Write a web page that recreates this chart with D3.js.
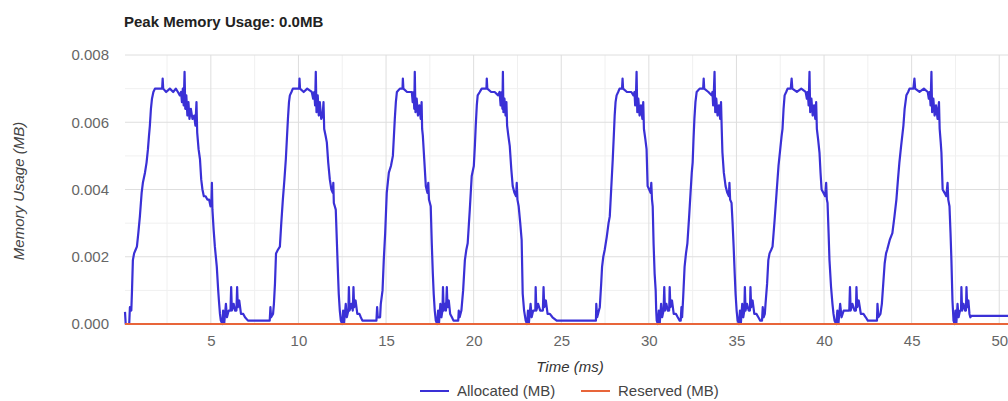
<!DOCTYPE html>
<html>
<head>
<meta charset="utf-8">
<script src="https://cdn.jsdelivr.net/npm/d3@7"></script>
<style>
  html, body { margin: 0; padding: 0; background: #fff; }
  svg { display: block; font-family: "Liberation Sans", Arial, sans-serif; }
</style>
</head>
<body>
<svg id="chart" width="1008" height="401"></svg>
<script>
// Allocated memory over time, [time ms, MB], one block per burst
const allocatedBurst1 = [
  [0.10,0.00036],[0.14,0.0000],[0.34,0.0000],[0.38,0.0005],[0.46,0.0004],[0.50,0.0010],[0.55,0.0019],[0.62,0.0021],[0.70,0.0022],[0.78,0.0023],
  [0.86,0.0027],[0.95,0.0032],[1.05,0.0039],[1.12,0.0042],[1.24,0.0045],[1.33,0.0048],[1.41,0.0052],[1.47,0.0056],[1.52,0.0059],[1.58,0.0064],
  [1.64,0.0067],[1.72,0.0069],[1.81,0.0070],[1.95,0.0070],[2.09,0.0070],[2.22,0.0070],[2.25,0.0073],[2.28,0.0070],[2.45,0.0069],[2.66,0.0070],
  [2.85,0.0069],[3.00,0.0070],[3.12,0.0069],[3.23,0.0068],[3.30,0.0069],[3.35,0.0066],[3.40,0.0070],[3.45,0.0065],[3.50,0.0075],[3.54,0.0064],
  [3.60,0.0068],[3.66,0.0062],[3.72,0.0066],[3.78,0.0061],[3.86,0.0064],[3.95,0.0061],[4.05,0.0062],[4.12,0.0059],[4.18,0.0066],[4.22,0.0057],
  [4.30,0.0052],[4.38,0.0049],[4.45,0.0043],[4.52,0.0040],[4.60,0.0038],[4.70,0.0038],[4.80,0.0037],[4.90,0.0037],[4.98,0.0035],[5.03,0.0036],
  [5.06,0.0042],[5.09,0.0034],[5.16,0.0028],[5.23,0.0023],[5.34,0.0017],[5.42,0.0010],[5.46,0.0007],[5.52,0.0003],[5.57,0.0001],
  [5.66,0.0000],[5.70,0.0004],[5.76,0.0000],[5.86,0.0006],[5.92,0.0002],[6.02,0.0004],[6.12,0.0004],[6.16,0.0011],[6.20,0.0004],[6.30,0.0006],
  [6.38,0.0004],[6.46,0.0004],[6.50,0.0011],[6.54,0.0005],[6.62,0.0007],[6.72,0.0003],[6.85,0.0003],[6.95,0.0002],[7.12,0.0001],
  [8.36,0.0001],[8.40,0.0005],[8.44,0.0002],[8.55,0.0003],[8.60,0.0006]
];
const allocatedBurst2 = [
  [8.66,0.0012],[8.72,0.0021],[8.82,0.0022],[8.94,0.0023],[9.02,0.0030],[9.11,0.0037],[9.20,0.0043],[9.28,0.0049],[9.34,0.0055],[9.40,0.0061],
  [9.46,0.0066],[9.51,0.0068],[9.60,0.0069],[9.68,0.0070],[9.85,0.0070],[10.04,0.0070],[10.06,0.0073],[10.09,0.0070],[10.30,0.0069],[10.50,0.0070],
  [10.76,0.0069],[10.84,0.0067],[10.90,0.0069],[10.95,0.0065],[10.99,0.0075],[11.03,0.0063],[11.10,0.0068],[11.16,0.0062],[11.22,0.0066],[11.30,0.0061],
  [11.38,0.0062],[11.43,0.0066],[11.47,0.0058],[11.55,0.0056],[11.62,0.0054],[11.70,0.0048],[11.79,0.0043],[11.88,0.0040],[11.96,0.0039],[11.99,0.0042],
  [12.02,0.0036],[12.13,0.0034],[12.19,0.0025],[12.25,0.0016],[12.30,0.0009],[12.36,0.0004],[12.42,0.0001],
  [12.50,0.0000],[12.55,0.0004],[12.60,0.0000],[12.70,0.0006],[12.76,0.0002],[12.85,0.0004],[12.88,0.0011],[12.92,0.0004],[13.02,0.0006],
  [13.10,0.0004],[13.14,0.0011],[13.18,0.0005],[13.26,0.0007],[13.36,0.0003],[13.48,0.0003],[13.56,0.0002],[13.65,0.0001],
  [14.45,0.0001],[14.49,0.0005],[14.53,0.0002],[14.66,0.0002],[14.70,0.0006]
];
const allocatedBurst3 = [
  [14.80,0.0010],[14.87,0.0019],[14.95,0.0027],[15.04,0.0039],[15.16,0.0045],[15.28,0.0047],[15.39,0.0050],[15.45,0.0056],[15.50,0.0061],[15.56,0.0066],
  [15.62,0.0069],[15.79,0.0070],[15.94,0.0070],[15.96,0.0073],[15.99,0.0070],[16.20,0.0069],[16.47,0.0069],[16.52,0.0066],[16.57,0.0069],[16.61,0.0064],
  [16.64,0.0075],[16.68,0.0063],[16.75,0.0067],[16.82,0.0062],[16.90,0.0065],[16.98,0.0061],[17.03,0.0066],[17.06,0.0058],[17.10,0.0056],[17.18,0.0049],
  [17.27,0.0041],[17.36,0.0039],[17.41,0.0042],[17.45,0.0037],[17.55,0.0035],[17.61,0.0024],[17.67,0.0015],[17.72,0.0009],[17.78,0.0004],[17.84,0.0001],
  [17.92,0.0000],[17.97,0.0004],[18.02,0.0000],[18.10,0.0006],[18.16,0.0002],[18.22,0.0004],[18.25,0.0011],[18.29,0.0004],[18.36,0.0006],[18.42,0.0004],
  [18.47,0.0011],[18.51,0.0005],[18.58,0.0007],[18.66,0.0003],[18.76,0.0002],[18.85,0.0001],
  [19.12,0.0001],[19.15,0.0004],[19.20,0.0002],[19.30,0.0004]
];
const allocatedBurst4 = [
  [19.40,0.0010],[19.50,0.0019],[19.58,0.0022],[19.66,0.0024],[19.72,0.0029],[19.78,0.0034],[19.89,0.0044],[20.01,0.0047],[20.07,0.0053],[20.12,0.0059],
  [20.18,0.0065],[20.23,0.0068],[20.35,0.0069],[20.46,0.0070],[20.60,0.0070],[20.73,0.0070],[20.75,0.0073],[20.78,0.0070],[21.00,0.0069],[21.20,0.0069],
  [21.40,0.0068],[21.48,0.0069],[21.54,0.0065],[21.60,0.0069],[21.64,0.0064],[21.67,0.0075],[21.70,0.0063],[21.76,0.0067],[21.82,0.0062],[21.87,0.0066],
  [21.91,0.0059],[21.98,0.0056],[22.06,0.0053],[22.15,0.0046],[22.23,0.0041],[22.33,0.0039],[22.42,0.0038],[22.46,0.0042],[22.50,0.0037],[22.57,0.0035],
  [22.66,0.0030],[22.74,0.0025],[22.80,0.0009],[22.88,0.0004],[22.97,0.0001],
  [23.05,0.0000],[23.10,0.0004],[23.15,0.0000],[23.25,0.0006],[23.31,0.0002],[23.40,0.0004],[23.52,0.0004],[23.54,0.0011],[23.58,0.0004],[23.68,0.0006],
  [23.80,0.0004],[23.95,0.0004],[23.99,0.0011],[24.03,0.0005],[24.12,0.0007],[24.22,0.0003],[24.35,0.0003],[24.50,0.0002],[24.74,0.0001],
  [26.98,0.0001],[27.00,0.0006],[27.05,0.0002],[27.15,0.0004],[27.20,0.0005]
];
const allocatedBurst5 = [
  [27.28,0.0012],[27.33,0.0017],[27.40,0.0020],[27.48,0.0022],[27.60,0.0026],[27.70,0.0030],[27.77,0.0032],[27.85,0.0040],[27.94,0.0049],[28.00,0.0056],
  [28.05,0.0062],[28.10,0.0066],[28.16,0.0068],[28.25,0.0069],[28.33,0.0070],[28.47,0.0070],[28.50,0.0073],[28.53,0.0070],[28.75,0.0069],[29.00,0.0069],
  [29.12,0.0068],[29.18,0.0069],[29.22,0.0065],[29.27,0.0069],[29.30,0.0075],[29.34,0.0063],[29.40,0.0067],[29.47,0.0062],[29.55,0.0065],[29.63,0.0061],
  [29.68,0.0066],[29.72,0.0058],[29.80,0.0055],[29.87,0.0052],[29.93,0.0041],[30.02,0.0040],[30.10,0.0039],[30.14,0.0042],[30.18,0.0037],[30.22,0.0035],
  [30.27,0.0024],[30.33,0.0015],[30.39,0.0010],[30.42,0.0004],[30.45,0.0001],
  [30.52,0.0000],[30.57,0.0004],[30.62,0.0000],[30.70,0.0006],[30.76,0.0002],[30.84,0.0004],[30.88,0.0011],[30.92,0.0004],[31.00,0.0006],[31.08,0.0004],
  [31.16,0.0004],[31.19,0.0011],[31.23,0.0005],[31.32,0.0007],[31.42,0.0003],[31.55,0.0003],[31.65,0.0002],[31.76,0.0001],
  [31.82,0.0001],[31.86,0.0005],[31.90,0.0002]
];
const allocatedBurst6 = [
  [31.96,0.0008],[32.04,0.0017],[32.12,0.0021],[32.20,0.0024],[32.30,0.0032],[32.38,0.0039],[32.45,0.0045],[32.50,0.0048],[32.55,0.0055],[32.60,0.0061],
  [32.66,0.0066],[32.73,0.0069],[32.90,0.0070],[33.10,0.0070],[33.13,0.0073],[33.16,0.0070],[33.40,0.0069],[33.58,0.0068],[33.63,0.0069],[33.67,0.0065],
  [33.71,0.0069],[33.75,0.0075],[33.79,0.0063],[33.85,0.0067],[33.92,0.0062],[34.00,0.0065],[34.07,0.0061],[34.12,0.0066],[34.16,0.0058],[34.20,0.0051],
  [34.28,0.0045],[34.38,0.0041],[34.48,0.0039],[34.57,0.0038],[34.60,0.0042],[34.64,0.0037],[34.72,0.0036],[34.78,0.0030],[34.84,0.0023],[34.90,0.0015],
  [34.95,0.0009],[35.01,0.0004],[35.07,0.0001],
  [35.15,0.0000],[35.20,0.0004],[35.25,0.0000],[35.33,0.0006],[35.39,0.0002],[35.45,0.0004],[35.48,0.0011],[35.52,0.0004],[35.60,0.0006],[35.70,0.0004],
  [35.77,0.0004],[35.80,0.0011],[35.84,0.0005],[35.92,0.0007],[36.02,0.0003],[36.14,0.0003],[36.25,0.0002],[36.36,0.0001],
  [36.46,0.0001],[36.50,0.0005],[36.55,0.0002],[36.62,0.0003],[36.66,0.0006]
];
const allocatedBurst7 = [
  [36.75,0.0012],[36.82,0.0019],[36.89,0.0021],[36.98,0.0022],[37.06,0.0023],[37.18,0.0031],[37.29,0.0039],[37.40,0.0047],[37.50,0.0052],[37.58,0.0056],
  [37.63,0.0058],[37.69,0.0064],[37.75,0.0068],[37.84,0.0069],[37.92,0.0070],[38.10,0.0070],[38.15,0.0073],[38.19,0.0070],[38.45,0.0069],[38.70,0.0070],
  [38.95,0.0069],[39.02,0.0067],[39.07,0.0069],[39.12,0.0065],[39.17,0.0075],[39.21,0.0063],[39.28,0.0067],[39.35,0.0062],[39.43,0.0065],[39.50,0.0061],
  [39.55,0.0066],[39.59,0.0058],[39.66,0.0055],[39.74,0.0051],[39.80,0.0045],[39.86,0.0040],[39.96,0.0039],[40.06,0.0038],[40.12,0.0042],[40.16,0.0037],
  [40.20,0.0036],[40.26,0.0027],[40.31,0.0019],[40.40,0.0011],[40.48,0.0006],[40.54,0.0003],[40.60,0.0001],
  [40.70,0.0000],[40.76,0.0004],[40.82,0.0000],[40.92,0.0006],[41.00,0.0002],[41.12,0.0004],[41.30,0.0004],[41.44,0.0004],[41.48,0.0011],[41.52,0.0004],
  [41.62,0.0006],[41.74,0.0004],[41.82,0.0004],[41.85,0.0011],[41.89,0.0005],[41.98,0.0007],[42.10,0.0003],[42.25,0.0003],[42.38,0.0002],[42.50,0.0001],
  [43.02,0.0001],[43.05,0.0006],[43.10,0.0002],[43.22,0.0003],[43.30,0.0006]
];
const allocatedBurst8 = [
  [43.38,0.0012],[43.46,0.0018],[43.54,0.0021],[43.60,0.0022],[43.75,0.0025],[43.90,0.0027],[44.02,0.0032],[44.13,0.0037],[44.22,0.0043],[44.30,0.0048],
  [44.40,0.0053],[44.53,0.0059],[44.60,0.0064],[44.70,0.0068],[44.80,0.0069],[44.88,0.0070],[45.10,0.0070],[45.16,0.0073],[45.20,0.0070],[45.45,0.0069],
  [45.70,0.0070],[45.92,0.0069],[45.98,0.0067],[46.03,0.0069],[46.08,0.0065],[46.13,0.0075],[46.17,0.0063],[46.24,0.0067],[46.31,0.0062],[46.39,0.0065],
  [46.48,0.0061],[46.56,0.0066],[46.60,0.0058],[46.66,0.0054],[46.70,0.0051],[46.77,0.0040],[46.88,0.0039],[46.98,0.0038],[47.05,0.0042],[47.09,0.0037],
  [47.16,0.0035],[47.22,0.0027],[47.27,0.0019],[47.33,0.0007],[47.39,0.0001],
  [47.46,0.0000],[47.50,0.0004],[47.55,0.0000],[47.62,0.0006],[47.68,0.0002],[47.76,0.0004],[47.82,0.0004],[47.84,0.0011],[47.88,0.0004],[47.96,0.0006],
  [48.05,0.0004],[48.10,0.0004],[48.13,0.0011],[48.17,0.0005],[48.24,0.0007],[48.30,0.0003],[48.35,0.0002],[48.40,0.00024]
];
const allocatedTail = [[50.8,0.00024]];

// Reserved memory stays at zero for the whole trace
const reservedTimes = [0.1, 50.8];
const reservedMB = [0, 0];

const yTickValues = [0, 0.002, 0.004, 0.006, 0.008];
const yTickLabels = ["0.000", "0.002", "0.004", "0.006", "0.008"];
const yMinorValues = [0.001, 0.003, 0.005, 0.007];
const xTickValues = [5, 10, 15, 20, 25, 30, 35, 40, 45, 50];
const xMinorValues = [2.5, 7.5, 12.5, 17.5, 22.5, 27.5, 32.5, 37.5, 42.5, 47.5];

const seriesNames = ["Allocated (MB)", "Reserved (MB)"];
const seriesColors = ["#3a30d6", "#e8653a"];

const allocated = [].concat(allocatedBurst1, allocatedBurst2, allocatedBurst3, allocatedBurst4,
  allocatedBurst5, allocatedBurst6, allocatedBurst7, allocatedBurst8, allocatedTail);
const reserved = reservedTimes.map((t, i) => [t, reservedMB[i]]);

const svg = d3.select("#chart");
const plot = { left: 125, right: 1008, top: 55, bottom: 324 };

const x = d3.scaleLinear().domain([0.1, 50.5]).range([plot.left, plot.right]);
const y = d3.scaleLinear().domain([0, 0.008]).range([plot.bottom, plot.top]);

// Grid: light minor lines, slightly darker major lines
const grid = svg.append("g");
grid.selectAll(".ymin").data(yMinorValues).join("line")
  .attr("x1", plot.left).attr("x2", plot.right)
  .attr("y1", d => y(d)).attr("y2", d => y(d))
  .attr("stroke", "#f0f0f0").attr("stroke-width", 1);
grid.selectAll(".xmin").data(xMinorValues).join("line")
  .attr("x1", d => x(d)).attr("x2", d => x(d))
  .attr("y1", plot.top).attr("y2", plot.bottom)
  .attr("stroke", "#f0f0f0").attr("stroke-width", 1);
grid.selectAll(".ymaj").data(yTickValues).join("line")
  .attr("x1", plot.left).attr("x2", plot.right)
  .attr("y1", d => y(d)).attr("y2", d => y(d))
  .attr("stroke", "#dedede").attr("stroke-width", 1);
grid.selectAll(".xmaj").data(xTickValues).join("line")
  .attr("x1", d => x(d)).attr("x2", d => x(d))
  .attr("y1", plot.top).attr("y2", plot.bottom)
  .attr("stroke", "#dedede").attr("stroke-width", 1);

// Axes (labels only, no domain line or tick marks)
const yAxis = d3.axisLeft(y).tickValues(yTickValues)
  .tickFormat((d, i) => yTickLabels[i]).tickSize(0).tickPadding(16);
svg.append("g").attr("transform", `translate(${plot.left},0)`).call(yAxis)
  .call(g => g.select(".domain").remove())
  .call(g => g.selectAll("text").attr("font-size", 15).attr("fill", "#666")
    .attr("font-family", "Liberation Sans, Arial, sans-serif"));

const xAxis = d3.axisBottom(x).tickValues(xTickValues).tickFormat(d3.format("d"))
  .tickSize(0).tickPadding(11);
svg.append("g").attr("transform", `translate(0,${plot.bottom})`).call(xAxis)
  .call(g => g.select(".domain").remove())
  .call(g => g.selectAll("text").attr("font-size", 15).attr("fill", "#666")
    .attr("font-family", "Liberation Sans, Arial, sans-serif"));

// Series lines
const line = d3.line().x(d => x(d[0])).y(d => y(d[1]));
svg.append("path").datum(allocated)
  .attr("d", line).attr("fill", "none")
  .attr("stroke", seriesColors[0]).attr("stroke-width", 2.2)
  .attr("stroke-linejoin", "round");
svg.append("path").datum(reserved)
  .attr("d", line).attr("fill", "none")
  .attr("stroke", seriesColors[1]).attr("stroke-width", 2);

// Titles
svg.append("text").attr("x", 124).attr("y", 27)
  .attr("font-size", 15).attr("font-weight", "bold").attr("fill", "#222")
  .text("Peak Memory Usage: 0.0MB");

svg.append("text").attr("x", 570).attr("y", 372)
  .attr("text-anchor", "middle").attr("font-size", 15).attr("font-style", "italic").attr("fill", "#333")
  .text("Time (ms)");

svg.append("text")
  .attr("transform", "translate(24,191) rotate(-90)")
  .attr("text-anchor", "middle").attr("font-size", 15).attr("font-style", "italic").attr("fill", "#444")
  .text("Memory Usage (MB)");

// Legend
const legendX = [420, 581];
const legend = svg.append("g").selectAll("g").data(seriesNames).join("g")
  .attr("transform", (d, i) => `translate(${legendX[i]},391)`);
legend.append("line").attr("x1", 0).attr("x2", 29).attr("y1", 0).attr("y2", 0)
  .attr("stroke", (d, i) => seriesColors[i]).attr("stroke-width", 2);
legend.append("text").attr("x", 37).attr("y", 5)
  .attr("font-size", 15).attr("fill", "#444").text(d => d);
</script>
</body>
</html>
